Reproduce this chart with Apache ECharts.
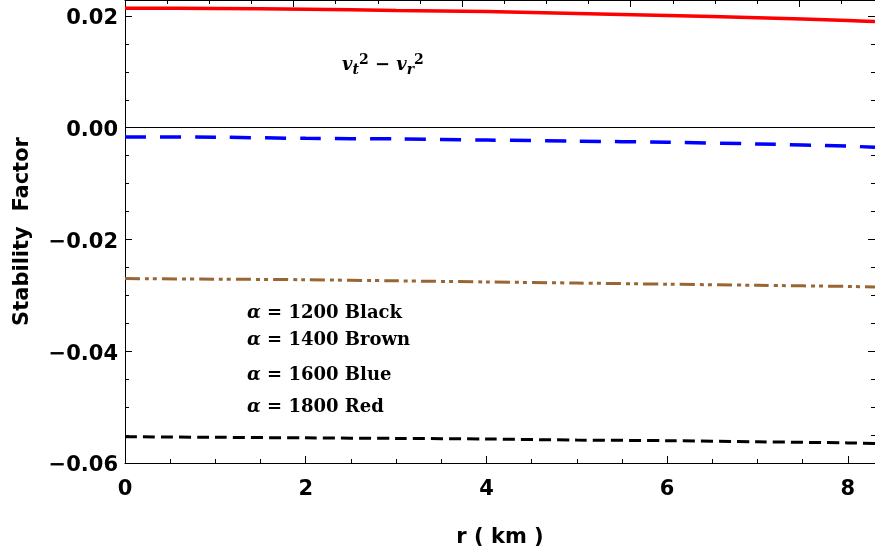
<!DOCTYPE html>
<html>
<head>
<meta charset="utf-8">
<script src="https://cdn.jsdelivr.net/npm/echarts@6/dist/echarts.min.js"></script>
<style>
html,body{margin:0;padding:0;background:#fff;}
#c{width:875px;height:558px;}
</style>
</head>
<body>
<div id="c"></div>
<script>
// ---- data ----
const rValues = [0, 1, 2, 3, 4, 5, 6, 7, 8, 8.3];
const blackVals = [-0.0553, -0.0554, -0.0555, -0.0556, -0.0557, -0.0559, -0.0560, -0.0562, -0.0564, -0.0565];
const brownVals = [-0.0270, -0.0271, -0.0272, -0.0274, -0.0276, -0.0278, -0.0280, -0.0282, -0.0284, -0.0285];
const blueVals  = [-0.00165, -0.0017, -0.0019, -0.0020, -0.0022, -0.0024, -0.0026, -0.0029, -0.0033, -0.0035];
const redVals   = [0.0214, 0.02135, 0.0212, 0.0210, 0.0208, 0.02045, 0.0201, 0.0197, 0.0192, 0.0190];

const xTickValues = [0, 2, 4, 6, 8];
const xTickLabels = ['0', '2', '4', '6', '8'];
const yTickValues = [-0.06, -0.04, -0.02, 0, 0.02];
const yTickLabels = ['\u22120.06', '\u22120.04', '\u22120.02', '0.00', '0.02'];

const legendLines = ['1200 Black', '1400 Brown', '1600 Blue', '1800 Red'];

function pairs(xs, ys) { return xs.map((x, i) => [x, ys[i]]); }
function lookup(vals, labels, v) {
  for (let i = 0; i < vals.length; i++) if (Math.abs(vals[i] - v) < 1e-9) return labels[i];
  return '';
}

const X_MIN = 0, X_MAX = 8.30, Y_MIN = -0.06, Y_MAX = 0.02286;
const TOP_MAX = 8.9;
const sansBold = { fontFamily: 'DejaVu Sans', fontWeight: 'bold', fontSize: 21, color: '#000' };

const chart = echarts.init(document.getElementById('c'), null, { renderer: 'canvas' });

function baseAxis(extra) {
  return Object.assign({
    type: 'value',
    splitLine: { show: false },
    axisLine: { show: true, onZero: false, lineStyle: { color: '#000', width: 1 } },
    axisTick: { show: true, inside: true, length: 7, lineStyle: { color: '#000', width: 1 } },
    axisLabel: { show: false },
    minorTick: { show: false }
  }, extra);
}

const option = {
  animation: false,
  backgroundColor: '#fff',
  grid: { left: 125, right: -2, top: -1, bottom: 95, containLabel: false },
  xAxis: [
    baseAxis({
      position: 'bottom', min: X_MIN, max: X_MAX, interval: 2,
      name: 'r ( km )', nameLocation: 'middle', nameGap: 64,
      nameTextStyle: sansBold,
      axisLabel: Object.assign({ show: true, margin: 16, showMaxLabel: false,
        formatter: v => lookup(xTickValues, xTickLabels, v) }, sansBold)
    }),
    baseAxis({ position: 'bottom', min: X_MIN, max: X_MAX, interval: 0.5,
      axisLine: { show: false, onZero: false }, axisTick: { show: true, inside: true, length: 4, lineStyle: { color: '#000' } } }),
    baseAxis({ position: 'top', min: 0, max: TOP_MAX, interval: 2 }),
    baseAxis({ position: 'top', min: 0, max: TOP_MAX, interval: 0.5,
      axisLine: { show: false, onZero: false }, axisTick: { show: true, inside: true, length: 4, lineStyle: { color: '#000' } } })
  ],
  yAxis: [
    baseAxis({
      position: 'left', min: Y_MIN, max: Y_MAX, interval: 0.02,
      name: 'Stability  Factor', nameLocation: 'middle', nameGap: 92,
      nameTextStyle: sansBold,
      axisLabel: Object.assign({ show: true, margin: 7, showMaxLabel: false,
        formatter: v => '{t|' + lookup(yTickValues, yTickLabels, v) + '}',
        rich: { t: Object.assign({ padding: [6, 0, 0, 0] }, sansBold) } }, sansBold)
    }),
    baseAxis({ position: 'left', min: Y_MIN, max: Y_MAX, interval: 0.005,
      axisLine: { show: false, onZero: false }, axisTick: { show: true, inside: true, length: 4, lineStyle: { color: '#000' } } }),
    baseAxis({ position: 'right', min: Y_MIN, max: Y_MAX, interval: 0.02 }),
    baseAxis({ position: 'right', min: Y_MIN, max: Y_MAX, interval: 0.005,
      axisLine: { show: false, onZero: false }, axisTick: { show: true, inside: true, length: 4, lineStyle: { color: '#000' } } })
  ],
  series: [
    {
      name: 'zero', type: 'line', data: [], xAxisIndex: 0, yAxisIndex: 0,
      markLine: {
        silent: true, symbol: 'none', label: { show: false },
        lineStyle: { color: '#000', width: 1, type: 'solid' },
        data: [{ yAxis: 0 }]
      }
    },
    {
      name: 'Black', type: 'line', data: pairs(rValues, blackVals), symbol: 'none', smooth: 0.3,
      lineStyle: { color: '#000', width: 3, type: [12, 6] }
    },
    {
      name: 'Brown', type: 'line', data: pairs(rValues, brownVals), symbol: 'none', smooth: 0.3,
      lineStyle: { color: '#996633', width: 3, type: [15, 5, 4, 4, 4, 5] }
    },
    {
      name: 'Blue', type: 'line', data: pairs(rValues, blueVals), symbol: 'none', smooth: 0.3,
      lineStyle: { color: '#0000ff', width: 3.5, type: [21, 14] }
    },
    {
      name: 'Red', type: 'line', data: pairs(rValues, redVals), symbol: 'none', smooth: 0.3,
      lineStyle: { color: '#ff0000', width: 3.5, type: 'solid' }
    }
  ],
  graphic: []
};

const serifBold = 'bold 18px "DejaVu Serif"';
const legendY = [313, 340, 375, 407];
legendLines.forEach((t, i) => {
  option.graphic.push({
    type: 'text', x: 247, y: legendY[i], silent: true,
    style: {
      text: '{a|\u03b1} = ' + t,
      font: serifBold, fill: '#000', verticalAlign: 'middle', align: 'left',
      rich: { a: { font: 'italic bold 18px "DejaVu Serif"', fill: '#000' } }
    }
  });
});
option.graphic.push({
  type: 'text', x: 342, y: 65, silent: true,
  style: {
    text: '{v|v}{s|t}{p|2}{o| \u2212 }{v|v}{s|r}{p|2}',
    font: serifBold, fill: '#000', verticalAlign: 'middle', align: 'left',
    rich: {
      v: { font: 'italic bold 18px "DejaVu Serif"', fill: '#000', lineHeight: 24, verticalAlign: 'middle' },
      s: { font: 'italic bold 14px "DejaVu Serif"', fill: '#000', lineHeight: 14, verticalAlign: 'bottom' },
      p: { font: 'bold 14px "DejaVu Serif"', fill: '#000', lineHeight: 14, verticalAlign: 'top' },
      o: { font: 'bold 18px "DejaVu Serif"', fill: '#000', lineHeight: 24, verticalAlign: 'middle' }
    }
  }
});

chart.setOption(option);
</script>
</body>
</html>
